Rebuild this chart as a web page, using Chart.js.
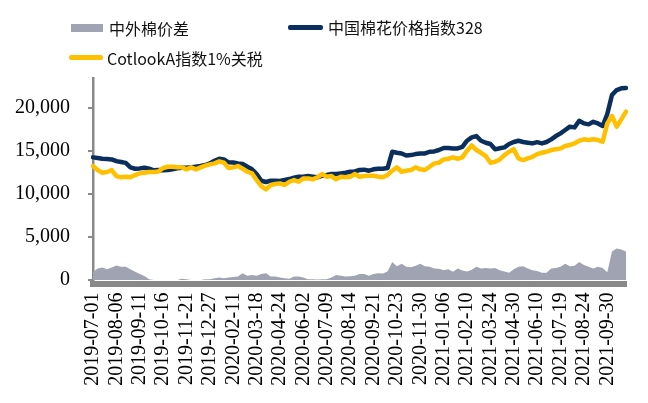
<!DOCTYPE html>
<html>
<head>
<meta charset="utf-8">
<script src="https://cdn.jsdelivr.net/npm/chart.js@4/dist/chart.umd.min.js"></script>
<style>
  html, body { margin: 0; padding: 0; background: #fff; }
  #wrap { position: relative; width: 648px; height: 403px; overflow: hidden; }
  #c { position: absolute; left: 0; top: 0; }
  .lg { position: absolute; font-family: 'Noto Sans CJK SC', 'Noto Sans', sans-serif; font-size: 16px; line-height: 20px; color: #111; white-space: nowrap; }
  .sw { position: absolute; }
</style>
</head>
<body>
<div id="wrap">
  <canvas id="c" width="648" height="403"></canvas>
  <div class="sw" style="left:71px;top:24px;width:32px;height:8px;background:#A0A4B2;"></div>
  <div class="lg" id="lg0" style="left:109px;top:18px;"></div>
  <div class="sw" style="left:288px;top:25px;width:35px;height:4.5px;background:#0A2F5C;border-radius:2px;"></div>
  <div class="lg" id="lg1" style="left:328px;top:17px;"></div>
  <div class="sw" style="left:69px;top:55px;width:34px;height:4.5px;background:#FFC000;border-radius:2px;"></div>
  <div class="lg" id="lg2" style="left:107px;top:48px;"></div>
</div>
<script>
// ---- data ----
const seriesNames = ['中外棉价差', '中国棉花价格指数328', 'CotlookA指数1%关税'];

const tickLabels = ['2019-07-01','2019-08-06','2019-09-11','2019-10-16','2019-11-21','2019-12-27',
  '2020-02-11','2020-03-18','2020-04-24','2020-06-02','2020-07-09','2020-08-14','2020-09-21',
  '2020-10-23','2020-11-30','2021-01-06','2021-02-10','2021-03-24','2021-04-30','2021-06-10',
  '2021-07-19','2021-08-24','2021-09-30'];

const categories = [
  '2019-07-01','2019-07-08','2019-07-15','2019-07-22','2019-07-29',
  '2019-08-06','2019-08-13','2019-08-20','2019-08-27','2019-09-03',
  '2019-09-11','2019-09-18','2019-09-25','2019-10-02','2019-10-09',
  '2019-10-16','2019-10-23','2019-10-30','2019-11-06','2019-11-13',
  '2019-11-21','2019-11-28','2019-12-05','2019-12-12','2019-12-19',
  '2019-12-27','2020-01-06','2020-01-13','2020-01-20','2020-02-04',
  '2020-02-11','2020-02-18','2020-02-25','2020-03-03','2020-03-10',
  '2020-03-18','2020-03-25','2020-04-01','2020-04-09','2020-04-16',
  '2020-04-24','2020-05-06','2020-05-13','2020-05-20','2020-05-27',
  '2020-06-02','2020-06-09','2020-06-16','2020-06-23','2020-07-02',
  '2020-07-09','2020-07-16','2020-07-23','2020-07-30','2020-08-06',
  '2020-08-14','2020-08-21','2020-08-28','2020-09-04','2020-09-11',
  '2020-09-21','2020-09-28','2020-10-05','2020-10-12','2020-10-16',
  '2020-10-23','2020-10-30','2020-11-06','2020-11-13','2020-11-20',
  '2020-11-30','2020-12-07','2020-12-14','2020-12-21','2020-12-28',
  '2021-01-06','2021-01-13','2021-01-20','2021-01-27','2021-02-03',
  '2021-02-10','2021-02-24','2021-03-03','2021-03-10','2021-03-17',
  '2021-03-24','2021-03-31','2021-04-08','2021-04-15','2021-04-22',
  '2021-04-30','2021-05-10','2021-05-17','2021-05-24','2021-06-01',
  '2021-06-10','2021-06-18','2021-06-25','2021-07-02','2021-07-09',
  '2021-07-19','2021-07-26','2021-08-02','2021-08-09','2021-08-16',
  '2021-08-24','2021-08-31','2021-09-07','2021-09-14','2021-09-23',
  '2021-09-30','2021-10-11','2021-10-15','2021-10-20','2021-10-25'
];

const spreadValues = [
  970,1350,1470,1240,1470, 1700,1550,1550,1240,970,
  700,460,100,0,0, 0,0,0,0,150,
  100,0,0,0,100, 100,200,300,200,300,
  350,400,800,500,600, 500,700,800,400,400,
  300,200,150,400,400, 300,100,100,50,100,
  100,300,600,500,400, 450,500,700,700,500,
  700,800,750,1000,2100, 1600,1900,1550,1500,1650,
  1900,1600,1550,1350,1300, 1150,1250,950,1350,1100,
  1000,1200,1550,1350,1400, 1350,1400,1150,1000,850,
  1250,1550,1600,1350,1150, 1050,850,850,1350,1400,
  1550,1900,1600,1650,2100, 1750,1550,1350,1550,1400,
  900,3300,3650,3550,3300
];

const cc328Values = [
  14240,14160,14080,14040,14000, 13800,13700,13600,13080,12920,
  12960,13040,12920,12730,12770, 12730,12770,12850,12960,13040,
  13040,13080,13150,13230,13350, 13540,13850,14080,13990,13660,
  13650,13540,13460,13150,12850, 12300,11530,11380,11530,11530,
  11500,11610,11720,11880,12000, 12000,12070,12000,11920,12110,
  12190,12300,12300,12380,12460, 12570,12610,12770,12810,12690,
  12850,12920,12920,13000,14890, 14770,14690,14460,14500,14620,
  14690,14690,14890,14930,15090, 15320,15320,15280,15280,15470,
  16170,16560,16710,16170,15940, 15790,15170,15300,15400,15790,
  16020,16170,16020,15940,15860, 16000,15860,16020,16330,16710,
  17020,17410,17800,17720,18490, 18180,18070,18370,18180,17880,
  19270,21470,22050,22250,22300
];

const cotlookValues = [
  13230,12770,12460,12540,12770, 12070,11920,12000,11920,12190,
  12380,12460,12540,12540,12610, 13000,13150,13150,13080,13080,
  12850,13080,12850,13080,13270, 13430,13540,13770,13620,13000,
  13080,13230,12920,12570,12380, 11610,10910,10520,11030,11140,
  11220,11030,11410,11610,11410, 11800,11800,11690,11920,12300,
  12000,12070,11690,12000,11920, 12000,12300,12000,12070,12100,
  12110,12000,11920,12190,12690, 13080,12570,12690,12770,13080,
  12850,12770,13150,13540,13620, 14000,14080,14240,14080,14240,
  15010,15630,15090,14770,14390, 13620,13720,14000,14500,14890,
  15170,14120,13930,14120,14310, 14620,14770,14890,15090,15170,
  15280,15550,15670,15860,16170, 16330,16250,16330,16250,16050,
  18180,19040,17800,18650,19540
];

const yTickValues = [0, 5000, 10000, 15000, 20000];

// ---- legend text ----
document.getElementById('lg0').textContent = seriesNames[0];
document.getElementById('lg1').textContent = seriesNames[1];
document.getElementById('lg2').textContent = seriesNames[2];

const axisGray = '#898989';
const tickFont = { family: "'Liberation Serif', 'Times New Roman', serif", size: 20 };

new Chart(document.getElementById('c'), {
  type: 'line',
  data: {
    labels: categories,
    datasets: [
      { label: seriesNames[2], data: cotlookValues, borderColor: '#FFC000', backgroundColor: '#FFC000',
        borderWidth: 4.5, pointRadius: 0, tension: 0, fill: false, order: 0,
        borderJoinStyle: 'round', borderCapStyle: 'round' },
      { label: seriesNames[1], data: cc328Values, borderColor: '#0A2F5C', backgroundColor: '#0A2F5C',
        borderWidth: 4.5, pointRadius: 0, tension: 0, fill: false, order: 1,
        borderJoinStyle: 'round', borderCapStyle: 'round' },
      { label: seriesNames[0], data: spreadValues, borderColor: 'rgba(0,0,0,0)', backgroundColor: '#A0A4B2',
        borderWidth: 0, pointRadius: 0, tension: 0, fill: 'origin', order: 2 }
    ]
  },
  options: {
    responsive: false,
    animation: false,
    devicePixelRatio: 1,
    layout: { padding: { top: 78, right: 22, left: 0, bottom: 0 } },
    plugins: { legend: { display: false }, tooltip: { enabled: false } },
    scales: {
      x: {
        type: 'category',
        offset: false,
        grid: { display: false, drawTicks: false },
        border: { display: true, color: axisGray, width: 6 },
        ticks: {
          autoSkip: false, maxRotation: 90, minRotation: 90, padding: 9,
          color: '#000', font: tickFont,
          callback: function(value, index) {
            const lab = categories[index];
            return tickLabels.includes(lab) ? lab : null;
          }
        },
        afterFit: function(scale) { scale.height = 119.5; }
      },
      y: {
        min: -400, max: 23450,
        grid: { display: true, drawOnChartArea: false, drawTicks: true, tickLength: 5, color: axisGray, tickColor: axisGray, lineWidth: 2 },
        border: { display: true, color: axisGray, width: 2.5 },
        ticks: {
          padding: 18, color: '#000', font: tickFont,
          callback: function(v) { return v.toLocaleString('en-US'); }
        },
        afterBuildTicks: function(scale) {
          scale.ticks = yTickValues.map(v => ({ value: v }));
        },
        afterFit: function(scale) { scale.width = 93; }
      }
    }
  }
});
</script>
</body>
</html>
